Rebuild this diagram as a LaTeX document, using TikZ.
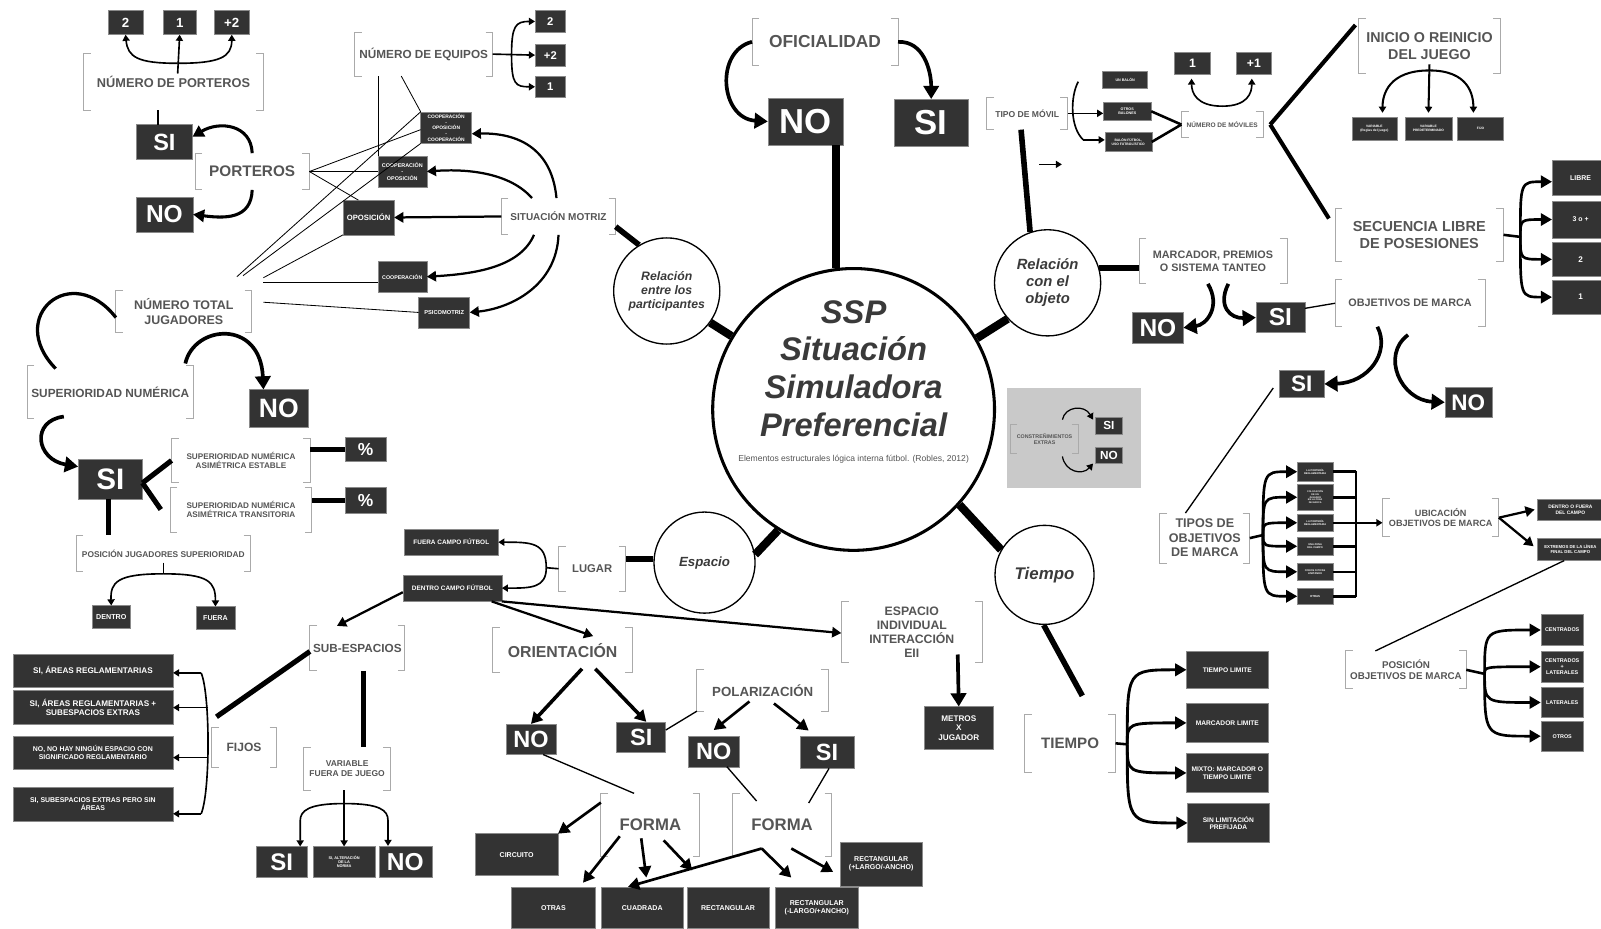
\documentclass[tikz,border=0pt]{standalone}
\usepackage{fontspec}
\setmainfont{Liberation Sans}
\usetikzlibrary{arrows.meta,calc}
\definecolor{boxc}{HTML}{333333}
\definecolor{boxb}{HTML}{8A8A8A}
\definecolor{txtc}{HTML}{555555}
\definecolor{brkc}{HTML}{AAAAAA}
\definecolor{ctc}{HTML}{3A3A3A}
\definecolor{grayb}{HTML}{C9C9C9}
\newcommand\fs[1]{\fontsize{#1}{\dimexpr #1pt*23/20\relax}\selectfont}
\newcommand\DB[8][]{\node[dbox,minimum width=#5pt,minimum height=#6pt,font=\bfseries\fs{#7},#1] (#2) at (#3,#4) {#8};}
\newcommand\BK[8][]{\node[bkt,minimum width=#5pt,minimum height=#6pt,font=\bfseries\fs{#7},#1] (#2) at (#3,#4) {#8};
 \draw[brkl] ([xshift=7pt]#2.north west) -- (#2.north west) -- (#2.south west) -- ([xshift=7pt]#2.south west);
 \draw[brkl] ([xshift=-7pt]#2.north east) -- (#2.north east) -- (#2.south east) -- ([xshift=-7pt]#2.south east);}
\begin{document}
\begin{tikzpicture}[x=1pt,y=-1pt,
 dbox/.style={fill=boxc,draw=boxb,line width=0.5pt,text=white,align=center,inner sep=0.5pt,outer sep=0pt},
 bkt/.style={inner sep=0pt,outer sep=0pt,text=txtc,align=center},
 brkl/.style={draw=brkc,line width=0.9pt},
 sat/.style={circle,draw=black,line width=1.3pt,fill=white,inner sep=0pt,align=center,text=ctc},
 lw/.style={line width=1.6pt},
 lw2/.style={line width=2.5pt},
 lw3/.style={line width=4pt},
 thk/.style={line width=8pt},
 thk2/.style={line width=5.5pt},
 thk3/.style={line width=5pt},
 thin1/.style={line width=0.8pt},
 thin2/.style={line width=1.3pt},
 arr/.style={-{Triangle[length=6pt,width=7pt]},line width=1.6pt},
 marr/.style={-{Triangle[length=9pt,width=10pt]},line width=2.2pt},
 barr/.style={-{Triangle[length=13pt,width=15pt]},line width=3.6pt},
 barr2/.style={-{Triangle[length=11pt,width=12pt]},line width=3pt},
]
\useasboundingbox (0,0) rectangle (1568,909);
\fill[white] (0,0) rectangle (1568,909);

% ===== centre =====
\node[circle,draw,line width=3pt,minimum size=276pt,inner sep=0pt] (C) at (836,401) {};
\node[font=\bfseries\itshape\fontsize{32}{37}\selectfont,text=ctc,align=center] (ctitle) at (836,361) {SSP\\Situación\\Simuladora\\Preferencial};
\node[font=\fs{8.4},text=txtc] (csub) at (836,450) {Elementos estructurales lógica interna fútbol. (Robles, 2012)};
\node[sat,minimum size=104pt,font=\bfseries\itshape\fs{12}] (P) at (653,285) {Relación\\entre los\\participantes};
\node[sat,minimum size=104pt,font=\bfseries\itshape\fs{14.5}] (O) at (1026,277) {Relación\\con el\\objeto};
\node[sat,minimum size=99pt,font=\bfseries\itshape\fs{13}] (E) at (690,551) {Espacio};
\node[sat,minimum size=97pt,font=\bfseries\itshape\fs{16.5}] (T) at (1023,563) {Tiempo};
\draw[thk] (P.324) -- (C.149);
\draw[thk] (O.222) -- (C.30);
\draw[thk] (E.9) -- (C.238);
\draw[thk] (C.318) -- (T.150);

% ===== oficialidad =====
\BK{OF}{808}{41}{143}{46}{17}{OFICIALIDAD}
\DB{NOo}{789}{119}{74}{46}{34}{NO}
\DB{SIo}{912}{120}{72}{46}{34}{SI}
\draw[barr] (OF.west) .. controls (700,50) and (705,116) .. (NOo.west);
\draw[barr] (OF.east) .. controls (905,40) and (912,70) .. (SIo.north);
\draw[thk] (C.97) -- (C.97 |- NOo.south);

% ===== porteros =====
\DB{n2}{123}{22}{34}{24}{13}{2}
\DB{n1}{176}{22}{33}{24}{13}{1}
\DB{np2}{227}{22}{34}{24}{13}{+2}
\BK{NP}{170}{80}{176}{56}{12.5}{NÚMERO DE PORTEROS}
\coordinate (npb) at (174,62);
\draw[arr] ([xshift=4pt,yshift=8pt]NP.center) -- (n1.south);
\draw[arr] (npb) .. controls (135,62) and (125,56) .. (n2.south);
\draw[arr] (npb) .. controls (215,62) and (227,56) .. (np2.south);
\BK{PO}{247}{168}{112}{36}{15}{PORTEROS}
\DB{SIp}{161}{139}{55}{34}{23}{SI}
\DB{NOp}{161}{210}{56}{34}{24}{NO}
\draw[line width=2pt] ([xshift=-6pt]SIp.north) -- ([xshift=-6pt]SIp.north |- NP.south);
\draw[barr2] (PO.north) .. controls (246,122) and (215,118) .. ([yshift=5pt]SIp.east);
\draw[barr2] (PO.south) .. controls (246,215) and (220,214) .. (NOp.east);

% ===== numero de equipos / situacion motriz =====
\BK{NE}{415}{53}{135}{43}{11.5}{NÚMERO DE EQUIPOS}
\DB{e2}{539}{21}{30}{21}{11}{2}
\DB{ep2}{539}{54}{30}{21}{11}{+2}
\DB{e1}{539}{85}{30}{21}{11}{1}
\coordinate (neb) at (501,54);
\draw[arr] (NE.east) -- (ep2.west);
\draw[arr] (neb) .. controls (501,25) and (505,21) .. (e2.west);
\draw[arr] (neb) .. controls (501,83) and (505,85) .. (e1.west);
\DB{coc}{437}{125}{50}{31}{4.8}{COOPERACIÓN\\-\\OPOSICIÓN\\-\\COOPERACIÓN}
\DB{co}{394}{168}{48}{30}{5.3}{COOPERACIÓN\\-\\OPOSICIÓN}
\DB{op}{361}{213}{50}{34}{7.5}{OPOSICIÓN}
\DB{coo}{394}{271}{48}{31}{5.2}{COOPERACIÓN}
\DB{psi}{435}{306}{50}{30}{5.6}{PSICOMOTRIZ}
\BK{SM}{547}{212}{112}{36}{9.8}{SITUACIÓN MOTRIZ}
\draw[thk2] ([yshift=-10pt]SM.east) -- (P.121);
\draw[marr] ([xshift=-2pt]SM.north) .. controls (540,140) and (500,130) .. ([yshift=-6pt]coc.east);
\draw[marr] ([xshift=-26pt]SM.north) .. controls (500,170) and (460,165) .. (co.east);
\draw[marr] (SM.west) -- (op.east);
\draw[marr] ([xshift=-24pt]SM.south) .. controls (510,260) and (470,268) .. (coo.east);
\draw[marr] (SM.south) .. controls (545,280) and (500,302) .. (psi.east);
\draw[thin1] ([xshift=-44pt]NE.south) -- ([xshift=-44pt]NE.south |- co.north);
\draw[thin1] ([xshift=-22pt]NE.south) -- (coc.north west);
\draw[thin1] (PO.east) -- ([yshift=-2pt]coc.west);
\draw[thin1] (PO.east) -- (co.west);
\draw[thin1] (PO.east) -- ([xshift=-10pt]op.north);

% ===== numero total jugadores / superioridad =====
\BK{NT}{180}{305}{133}{42}{12.2}{NÚMERO TOTAL\\JUGADORES}
\coordinate (nj1) at (232,271); \coordinate (nj2) at (238,270);
\coordinate (nj3) at (258,272); \coordinate (nj4) at (258,277);
\coordinate (nj5) at (258,296);
\draw[thin1] (nj1) -- (coc.north west);
\draw[thin1] (nj2) -- (coc.south west);
\draw[thin1] (nj3) -- (op.south west);
\draw[thin1] (nj4) -- (nj4 -| coo.west);
\draw[thin1] (nj5) -- (psi.west);
\BK{SU}{108}{384}{163}{52}{11.6}{SUPERIORIDAD NUMÉRICA}
\draw[line width=3.2pt] ([yshift=-6pt]NT.west) .. controls (70,255) and (5,310) .. ([xshift=28pt,yshift=-3pt]SU.north west);
\DB{NOs}{273}{400}{58}{37}{26}{NO}
\DB{SIs}{108}{469}{63}{39}{29}{SI}
\draw[barr] ([xshift=-8pt,yshift=2pt]SU.north east) .. controls (190,318) and (255,312) .. ([xshift=-15pt]NOs.north);
\draw[barr] ([xshift=36pt,yshift=2pt]SU.south west) .. controls (30,412) and (35,450) .. ([yshift=12pt]SIs.west);
\BK{SUA}{236}{451}{136}{44}{8}{SUPERIORIDAD NUMÉRICA\\ASIMÉTRICA ESTABLE}
\BK{SUT}{236}{499}{139}{44}{8}{SUPERIORIDAD NUMÉRICA\\ASIMÉTRICA TRANSITORIA}
\DB{pc1}{358}{440}{40}{24}{17}{\%}
\DB{pc2}{358}{490}{40}{25}{17}{\%}
\draw[thk3] ([yshift=-4pt]SIs.east) -- (SUA.west);
\draw[thk3] ([yshift=-4pt]SIs.east) -- ([xshift=-9pt]SUT.west);
\draw[thk3] (SUA.east |- pc1) -- (pc1.west);
\draw[thk3] (SUT.east |- pc2) -- (pc2.west);
\BK{PJ}{160}{542}{171}{36}{8.2}{POSICIÓN JUGADORES SUPERIORIDAD}
\draw[thk3] ([xshift=-2pt]SIs.south) -- ([xshift=-2pt]SIs.south |- PJ.north);
\DB{dentro}{109}{604}{38}{22}{7}{DENTRO}
\DB{fuera}{211}{605}{38}{22}{7}{FUERA}
\coordinate (pjb) at (160,562);
\draw[lw] ([yshift=-9pt]PJ.center) -- (pjb);
\draw[arr] (pjb) .. controls (115,562) and (108,570) .. (dentro.north);
\draw[arr] (pjb) .. controls (205,562) and (211,570) .. (fuera.north);

% ===== espacio =====
\DB{fcf}{442}{531}{92}{25}{6.3}{FUERA CAMPO FÚTBOL}
\DB{dcf}{443}{576}{97}{26}{6.3}{DENTRO CAMPO FÚTBOL}
\BK{LUG}{580}{557}{66}{44}{11}{LUGAR}
\draw[thk2] (E.176) -- (E.176 -| LUG.east);
\coordinate (lgm) at (535,556);
\draw[lw] (LUG.west) -- (lgm);
\draw[arr] (lgm) .. controls (535,531) and (520,531) .. (fcf.east);
\draw[arr] (lgm) .. controls (535,576) and (520,576) .. (dcf.east);
\BK{SUB}{350}{635}{93}{44}{11.5}{SUB-ESPACIOS}
\draw[marr] ([yshift=-4pt]dcf.west) -- ([xshift=-20pt]SUB.north);
\BK{FI}{239}{732}{64}{40}{11.8}{FIJOS}
\draw[thk3] ([yshift=-3pt]SUB.west) -- ([xshift=5pt,yshift=10pt]FI.north west);
\DB{f1}{91}{657}{157}{33}{8}{SI, ÁREAS REGLAMENTARIAS}
\DB{f2}{91}{693}{157}{33}{8}{SI, ÁREAS REGLAMENTARIAS +\\SUBESPACIOS EXTRAS}
\DB{f3}{91}{737}{157}{32}{6.8}{NO, NO HAY NINGÚN ESPACIO CON\\SIGNIFICADO REGLAMENTARIO}
\DB{f4}{91}{788}{157}{33}{6.8}{SI, SUBESPACIOS EXTRAS PERO SIN\\ÁREAS}
\coordinate (fjt) at (197,659); \coordinate (fjb) at (197,797); \coordinate (fjm) at (204,728);
\draw[lw] (fjt) .. controls (206,680) and (206,776) .. (fjb);
\draw[arr] (fjt) -- (fjt -| f1.east);
\draw[arr] (f2.east -| fjm) -- (f2.east);
\draw[arr] ([yshift=-5pt]f3.east -| fjm) -- ([yshift=-5pt]f3.east);
\draw[arr] (fjb) -- (fjb -| f4.east);
\BK{VFJ}{340}{753}{85}{42}{8.3}{VARIABLE\\FUERA DE JUEGO}
\draw[thk3] ([xshift=6pt]SUB.south) -- ([xshift=6pt]SUB.south |- VFJ.north);
\DB{sv}{276}{844}{50}{30}{23.5}{SI}
\DB{vm}{337}{844}{61}{30}{3.8}{SI, ALTERACIÓN\\DE LA\\NORMA}
\DB{nv}{397}{844}{52}{31}{24}{NO}
\coordinate (vfb) at (337,787);
\draw[arr] (vm.north |- VFJ.south) -- (vm.north);
\draw[arr] (vfb) .. controls +(-35pt,0pt) and +(0pt,10pt) .. ([xshift=18pt,yshift=25pt]sv.north) -- ([xshift=18pt]sv.north);
\draw[arr] (vfb) .. controls +(35pt,0pt) and +(0pt,10pt) .. ([xshift=-17pt,yshift=25pt]nv.north) -- ([xshift=-17pt]nv.north);

\BK{OR}{551}{637}{137}{44}{15.5}{ORIENTACIÓN}
\draw[marr] ([xshift=-10pt]dcf.south east) -- ([xshift=30pt,yshift=-8pt]OR.north);
\BK{EII}{893}{619}{138}{59}{12}{ESPACIO\\INDIVIDUAL\\INTERACCIÓN\\EII}
\draw[marr] (dcf.south east) -- ([yshift=-1pt]EII.west);
\DB{met}{939}{713}{67}{42}{8}{METROS\\X\\JUGADOR}
\draw[barr] ([xshift=45pt,yshift=-22pt]EII.center) -- (met.north);
\DB{NOr}{520}{724}{49}{30}{23}{NO}
\DB{SIr}{628}{722}{48}{30}{23}{SI}
\draw[barr2,line width=3.5pt] ([xshift=19pt,yshift=-18pt]OR.center) -- (NOr.north);
\draw[barr2,line width=3.5pt] ([xshift=32pt,yshift=-18pt]OR.center) -- ([xshift=5pt]SIr.north);
\BK{POL}{747}{676}{129}{41}{13}{POLARIZACIÓN}
\draw[thin2] ([yshift=7pt]SIr.east) -- (POL.south west);
\DB{NOl}{699}{736}{50}{30}{23}{NO}
\DB{SIl}{810}{737}{53}{31}{23}{SI}
\draw[barr2,line width=2.6pt] ([xshift=-13pt,yshift=-11pt]POL.center) -- ([yshift=6pt]NOl.north);
\draw[barr2,line width=2.6pt] ([xshift=11pt,yshift=-13pt]POL.center) -- ([xshift=-18pt,yshift=6pt]SIl.north);
\BK{FO1}{637}{808}{97}{62}{16.4}{FORMA}
\BK{FO2}{766}{808}{97}{61}{16.4}{FORMA}
\draw[thin2] ([xshift=12pt]NOr.south) -- ([xshift=-16pt]FO1.north);
\draw[thin2] ([xshift=13pt]NOl.south) -- ([xshift=-25pt,yshift=-7pt]FO2.north);
\draw[thin2] ([xshift=2pt]SIl.south) -- ([xshift=26pt,yshift=-9pt]FO2.north);
\DB{circ}{506}{837}{81}{41}{6.9}{CIRCUITO}
\DB{otr}{542}{889}{82}{41}{6.9}{OTRAS}
\DB{cua}{629}{889}{81}{41}{6.9}{CUADRADA}
\DB{rec}{713}{889}{80}{41}{6.9}{RECTANGULAR}
\DB{recm}{800}{889}{81}{41}{6.9}{RECTANGULAR\\(-LARGO/+ANCHO)}
\DB{recp}{863}{846}{80}{43}{6.9}{RECTANGULAR\\(+LARGO/-ANCHO)}
\draw[barr2,line width=2.6pt] ([yshift=-9pt]FO1.north west) -- (circ.north east);
\draw[barr2,line width=2.6pt] ([xshift=-30pt,yshift=-11pt]FO1.center) -- ([xshift=29pt,yshift=4pt]otr.north);
\draw[barr2,line width=2.6pt] ([xshift=-9pt,yshift=-13pt]FO1.center) -- ([xshift=4pt,yshift=9pt]cua.north);
\draw[barr2,line width=2.6pt] ([xshift=13pt,yshift=-15pt]FO1.center) -- ([xshift=-35pt,yshift=16pt]rec.north);
\draw[barr2,line width=2.6pt] ([xshift=-20pt,yshift=-23pt]FO2.center) -- ([xshift=-14pt]cua.north);
\draw[barr2,line width=2.6pt] ([xshift=-20pt,yshift=-23pt]FO2.center) -- ([xshift=-25pt,yshift=9pt]recm.north);
\draw[barr2,line width=2.6pt] ([xshift=9pt,yshift=-23pt]FO2.center) -- ([xshift=-7pt,yshift=-8pt]recp.west);

% ===== tiempo =====
\BK{TI}{1048}{728}{89}{57}{14.8}{TIEMPO}
\draw[thk2] (T.269) -- ([xshift=12pt,yshift=18pt]TI.north);
\DB{tl}{1202}{656}{80}{37}{6.5}{TIEMPO LIMITE}
\DB{ml}{1202}{708}{80}{38}{6.5}{MARCADOR LIMITE}
\DB{mx}{1202}{757}{80}{38}{6.5}{MIXTO: MARCADOR O\\TIEMPO LIMITE}
\DB{sl}{1203}{806}{80}{38}{6.5}{SIN LIMITACIÓN\\PREFIJADA}
\coordinate (tib) at (1104,729);
\draw[lw2] (TI.east) -- (tib);
\foreach \b in {tl,ml,mx,sl} {\draw[barr2,line width=2.8pt] (tib) .. controls (tib |- \b.west) .. (\b.west);}

% ===== relacion con el objeto =====
\BK{TM}{1006}{111}{79}{32}{8.4}{TIPO DE MÓVIL}
\draw[thk2] ([xshift=-6pt]TM.south) -- (O.109);
\DB{ub}{1102}{78}{44}{17}{3.6}{UN BALÓN}
\DB{ob}{1104}{109}{47}{18}{3.6}{OTROS\\BALONES}
\DB{bf}{1105}{139}{46}{19}{3.3}{BALÓN FÚTBOL,\\USO FUTBOLÍSTICO}
\coordinate (tbt) at (1056,80); \coordinate (tbb) at (1061,137);
\draw[lw] (tbt) .. controls (1048,95) and (1048,125) .. (tbb);
\draw[arr] (tbb) -- (tbb -| bf.west);
\draw[arr] (TM.east) -- (TM.east -| ob.west);
\BK{NM}{1197}{122}{80}{25}{6.4}{NÚMERO DE MÓVILES}
\draw[lw2] (ob.east) -- (NM.west);
\draw[lw2] (bf.east) -- (NM.west);
\DB{m1}{1168}{62}{35}{22}{12}{1}
\DB{mp1}{1228}{62}{35}{22}{12}{+1}
\coordinate (nmu) at (1197,104);
\draw[arr] (nmu) .. controls +(-25pt,0pt) and +(0pt,-14pt) .. ([xshift=-1pt,yshift=-4pt]m1.south);
\draw[arr] (nmu) .. controls +(25pt,0pt) and +(0pt,-14pt) .. ([xshift=-2pt,yshift=-4pt]mp1.south);
\coordinate (la1) at (1018,161); \coordinate (la2) at (1040,161);
\draw[arr] (la1) -- (la2);
\BK{INI}{1400}{45}{139}{53}{14}{INICIO O REINICIO\\DEL JUEGO}
\BK{SEC}{1390}{230}{165}{52}{14.2}{SECUENCIA LIBRE\\DE POSESIONES}
\draw[lw3] ([xshift=7pt]NM.east) -- ([xshift=-3pt,yshift=-6pt]INI.north west);
\draw[lw3] ([xshift=7pt]NM.east) -- ([xshift=-6pt,yshift=-10pt]SEC.north west);
\DB{iv1}{1346}{126}{44}{23}{3.2}{VARIABLE\\(Reglas del juego)}
\DB{iv2}{1399}{126}{46}{23}{3.2}{VARIABLE\\PREDETERMINADO}
\DB{iv3}{1450}{126}{45}{23}{3.2}{FIJO}
\coordinate (inb) at (1400,69);
\draw[arr,line width=2pt] ([yshift=-18pt]INI.center) -- ([yshift=4pt]iv2.north);
\draw[arr,line width=2pt] (inb) .. controls +(-40pt,0pt) and +(0pt,18pt) .. ([xshift=8pt,yshift=4pt]iv1.north);
\draw[arr,line width=2pt] (inb) .. controls +(38pt,0pt) and +(0pt,18pt) .. ([xshift=-7pt,yshift=4pt]iv3.north);
\DB{lib}{1548}{174}{56}{35}{6.8}{LIBRE}
\DB{s3}{1548}{215}{56}{36}{6.8}{3 o +}
\DB{s2}{1548}{254}{56}{34}{8}{2}
\DB{s1}{1548}{291}{56}{34}{8}{1}
\coordinate (scb) at (1489,232);
\draw[lw2] (SEC.east) -- (scb);
\draw[barr2,line width=2.6pt] (scb) .. controls (1489,178) .. ([yshift=-4pt]lib.west);
\foreach \b in {s3,s2,s1} {\draw[barr2,line width=2.6pt] (scb) .. controls (scb |- \b.west) .. (\b.west);}

\BK{MP}{1188}{256}{145}{44}{10.6}{MARCADOR, PREMIOS\\O SISTEMA TANTEO}
\draw[thk2] (O.16) -- (O.16 -| MP.west);
\DB{NOm}{1134}{321}{50}{31}{24}{NO}
\DB{SIm}{1254}{311}{48}{29}{24}{SI}
\draw[barr] ([xshift=-5pt]MP.south) .. controls (1196,300) and (1182,318) .. (NOm.east);
\draw[barr] ([xshift=15pt]MP.south) .. controls (1192,300) and (1205,312) .. (SIm.west);
\BK{OBJ}{1381}{297}{147}{46}{10.6}{OBJETIVOS DE MARCA}
\draw[thin2] ([yshift=9pt]SIm.east) -- (OBJ.west);
\DB{SI2}{1275}{376}{44}{27}{22}{SI}
\DB{NO2}{1438}{394}{46}{29}{22}{NO}
\draw[barr] ([xshift=-32pt]OBJ.south) .. controls (1362,345) and (1340,375) .. (SI2.east);
\draw[barr] ([xshift=-2pt,yshift=-8pt]OBJ.south) .. controls (1352,348) and (1372,392) .. (NO2.west);

% gray box
\node[fill=grayb,minimum width=131pt,minimum height=98pt,inner sep=0pt] (gbox) at (1051.5,429) {};
\BK{CE}{1023}{430}{67}{28}{5.2}{CONSTREÑIMIENTOS\\EXTRAS}
\DB{ceS}{1086}{417}{27}{17}{11.5}{SI}
\DB{ceN}{1086}{446}{27}{16}{11.5}{NO}
\draw[arr,line width=1.2pt] ([xshift=17.5pt,yshift=5pt]CE.north) .. controls (1043,398) and (1062,396) .. ([xshift=-2pt,yshift=6pt]ceS.west);
\draw[arr,line width=1.2pt] ([xshift=17.5pt,yshift=-3pt]CE.south) .. controls (1043,462) and (1060,466) .. ([xshift=-2pt,yshift=-8pt]ceN.west);

% tipos de objetivos
\BK{TOM}{1180}{527}{88}{49}{12.3}{TIPOS DE\\OBJETIVOS\\DE MARCA}
\draw[thin2] ([xshift=-6pt,yshift=-4pt]SI2.west) -- ([xshift=-19pt]TOM.north);
\DB{ty1}{1288}{462}{35}{18}{2.5}{LA PORTERÍA\\REGLAMENTARIA}
\DB{ty2}{1288}{487}{35}{25}{2.3}{COLOCACIÓN\\DE UN\\JUGADOR\\EN LA ZONA\\DE MARCA}
\DB{ty3}{1288}{512}{35}{17}{2.5}{LA PORTERÍA\\REGLAMENTARIA}
\DB{ty4}{1288}{535}{35}{18}{2.5}{UNA ZONA\\DEL CAMPO}
\DB{ty5}{1288}{560}{35}{17}{2.5}{CONOS O PICAS\\LIMITANDO}
\DB{ty6}{1288}{584}{35}{16}{2.8}{OTRAS}
\coordinate (tob) at (1237,524);
\draw[lw2] (TOM.east) -- (tob);
\foreach \b in {ty1,ty2,ty3,ty4,ty5,ty6} {\draw[barr2,line width=2.6pt] (tob) .. controls (tob |- \b.west) .. (\b.west);}
\coordinate (colt) at (1328,461); \coordinate (colb) at (1328,585);
\draw[lw2] (colt) -- (colb);
\foreach \b in {ty1,ty2,ty3,ty4,ty5,ty6} {\draw[lw2] (\b.east) -- (\b.east -| colt);}
\BK{UB}{1411}{507}{114}{37}{8.9}{UBICACIÓN\\OBJETIVOS DE MARCA}
\draw[arr] ([yshift=-5pt]UB.west -| colt) -- ([yshift=-5pt]UB.west);
\DB{dof}{1538}{499}{64}{21}{4.8}{DENTRO O FUERA\\DEL CAMPO}
\DB{ext}{1538}{538}{64}{22}{4.2}{EXTREMOS DE LA LÍNEA\\FINAL DEL CAMPO}
\draw[marr] (UB.east) -- ([xshift=-3pt]dof.west);
\draw[marr] (UB.east) -- ([xshift=-4pt,yshift=3pt]ext.west);
\BK{POS}{1377}{656}{118}{37}{9.6}{POSICIÓN\\OBJETIVOS DE MARCA}
\draw[thin2] ([xshift=-6pt]ext.south) -- ([xshift=-30pt]POS.north);
\DB{cen}{1530}{617}{42}{30}{5.3}{CENTRADOS}
\DB{cl}{1530}{653}{42}{31}{5.3}{CENTRADOS\\+\\LATERALES}
\DB{lat}{1530}{688}{42}{29}{5.3}{LATERALES}
\DB{otros}{1530}{721}{42}{30}{5.3}{OTROS}
\coordinate (posb) at (1454,660);
\draw[lw2] (POS.east) -- (posb);
\foreach \b in {cen,cl,lat,otros} {\draw[barr2,line width=2.6pt] (posb) .. controls (posb |- \b.west) .. (\b.west);}
\end{tikzpicture}
\end{document}
